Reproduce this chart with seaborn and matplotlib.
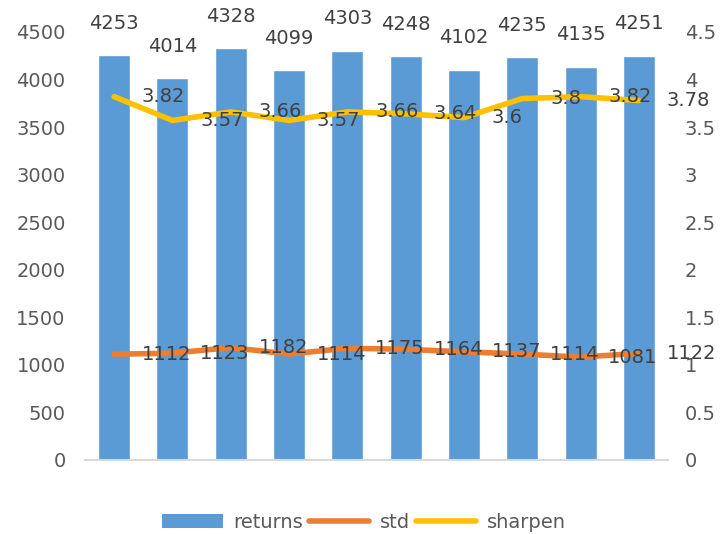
import matplotlib.pyplot as plt
import numpy as np
import pandas as pd
import seaborn as sns
from matplotlib.patches import Patch
from matplotlib.lines import Line2D

# Data
returns = [4253, 4014, 4328, 4099, 4303, 4248, 4102, 4235, 4135, 4251]
std = [1112, 1123, 1182, 1114, 1175, 1164, 1137, 1114, 1081, 1122]
sharpen = [3.82, 3.57, 3.66, 3.57, 3.66, 3.64, 3.6, 3.8, 3.82, 3.78]

df = pd.DataFrame({'idx': np.arange(len(returns)), 'returns': returns,
                   'std': std, 'sharpen': sharpen})

sns.set_style('white')
plt.rcParams['font.family'] = ['DejaVu Sans']

blue = '#5B9BD5'
orange = '#ED7D31'
gold = '#FFC000'
tick_col = '#595959'
lab_col = '#404040'
fs = 14
lw = 4

fig = plt.figure(figsize=(7.21, 5.34), dpi=100)
ax = fig.add_axes([0.1179, 0.1386, 0.8086, 0.8015])

sns.barplot(data=df, x='idx', y='returns', color=blue, saturation=1,
            width=0.55, ax=ax)
sns.lineplot(data=df, x='idx', y='std', color=orange, linewidth=lw,
             ax=ax, solid_capstyle='round')
ax.set_ylim(0, 4500)
ax.set_xlim(-0.5, 9.5)
ax.set_yticks(np.arange(0, 4501, 500))
ax.set_xticks([])
ax.set_xlabel('')
ax.set_ylabel('')

ax2 = ax.twinx()
sns.lineplot(data=df, x='idx', y='sharpen', color=gold, linewidth=lw,
             ax=ax2, solid_capstyle='round')
ax2.set_ylim(0, 4.5)
ax2.set_yticks(np.arange(0, 4.51, 0.5))
ax2.set_yticklabels([f'{v:g}' for v in np.arange(0, 4.51, 0.5)])
ax2.set_ylabel('')
ax2.set_xlabel('')

for a in (ax, ax2):
    for s in a.spines.values():
        s.set_visible(False)
    a.tick_params(axis='y', length=0, labelsize=fs, labelcolor=tick_col)
ax.spines['bottom'].set_visible(True)
ax.spines['bottom'].set_color('#D9D9D9')
ax.spines['bottom'].set_linewidth(1.5)
ax.tick_params(axis='y', pad=14)
ax2.tick_params(axis='y', pad=12)

# data labels
for i, v in enumerate(returns):
    ax.annotate(str(v), (i, v), xytext=(0, 23), textcoords='offset points',
                ha='center', va='center', fontsize=fs, color=lab_col,
                annotation_clip=False)
for i, v in enumerate(std):
    ax.annotate(str(v), (i, v), xytext=(20, 0), textcoords='offset points',
                ha='left', va='center', fontsize=fs, color=lab_col,
                annotation_clip=False)
for i, v in enumerate(sharpen):
    ax2.annotate(f'{v:g}', (i, v), xytext=(20, 0), textcoords='offset points',
                 ha='left', va='center', fontsize=fs, color=lab_col,
                 annotation_clip=False)

handles = [Patch(facecolor=blue, edgecolor='none'),
           Line2D([0], [0], color=orange, linewidth=lw),
           Line2D([0], [0], color=gold, linewidth=lw)]
fig.legend(handles, ['returns', 'std', 'sharpen'], loc='center',
           bbox_to_anchor=(0.505, 0.022), ncol=3, frameon=False,
           fontsize=fs, labelcolor=tick_col, handlelength=3.1,
           handleheight=0.8, handletextpad=0.55, columnspacing=0.3)

fig.savefig('out.png', dpi=100)
